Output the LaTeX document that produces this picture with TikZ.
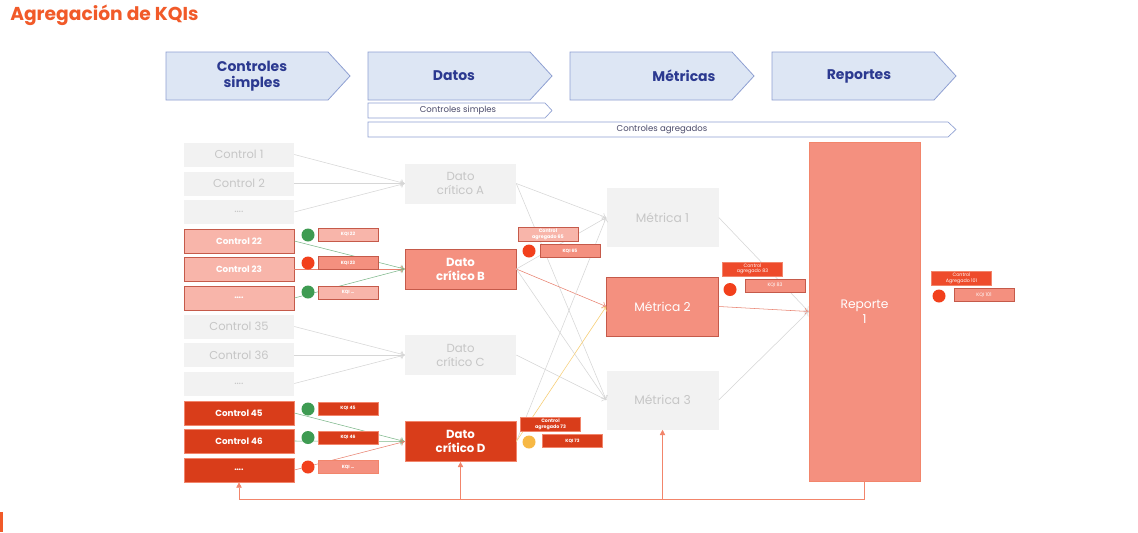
\documentclass[tikz,border=0pt]{standalone}
\usepackage{fontspec}
\setmainfont{Poppins}
\usetikzlibrary{arrows.meta}

\newdimen\pxu \pxu=0.75pt

\definecolor{ttlorange}{HTML}{F15A29}
\definecolor{hdrfill}{HTML}{DDE6F4}
\definecolor{hdrline}{HTML}{8FA0D2}
\definecolor{hdrtext}{HTML}{2B3990}
\definecolor{striptext}{HTML}{4A4A6A}
\definecolor{boxgrey}{HTML}{F2F2F2}
\definecolor{txtgrey}{HTML}{C6C6C6}
\definecolor{salmonpale}{HTML}{F8B5AA}
\definecolor{salmonmid}{HTML}{F4907F}
\definecolor{salmonline}{HTML}{C55A4A}
\definecolor{redorange}{HTML}{D93D1A}
\definecolor{redline}{HTML}{F2856B}
\definecolor{brightred}{HTML}{EE4B2B}
\definecolor{dotgreen}{HTML}{3E9B52}
\definecolor{dotred}{HTML}{F2401C}
\definecolor{dotyellow}{HTML}{F7B844}
\definecolor{lkgreyc}{HTML}{D6D6D6}
\definecolor{lkgreenc}{HTML}{7DB88A}
\definecolor{lkredc}{HTML}{E8806E}
\definecolor{lkyellowc}{HTML}{F7CC70}

\begin{document}
\begin{tikzpicture}[x=0.75pt,y=-0.75pt,
  hdr/.style={fill=hdrfill,draw=hdrline,line width=0.6pt},
  strip/.style={fill=white,draw=hdrline,line width=0.5pt},
  ctlgrey/.style={fill=boxgrey,draw=none,text=txtgrey,minimum width=110\pxu,minimum height=24\pxu,inner sep=0,font=\fontsize{8.6}{10}\selectfont},
  ctlpale/.style={fill=salmonpale,draw=salmonline,line width=0.5pt,text=white,minimum width=110\pxu,minimum height=24\pxu,inner sep=0,font=\bfseries\fontsize{6.6}{8}\selectfont},
  ctldark/.style={fill=redorange,draw=redline,line width=0.5pt,text=white,minimum width=110\pxu,minimum height=24\pxu,inner sep=0,font=\bfseries\fontsize{6.6}{8}\selectfont},
  datbox/.style={minimum width=111\pxu,minimum height=40\pxu,inner sep=0,align=center,font=\fontsize{8.8}{10.5}\selectfont},
  metbox/.style={minimum width=112\pxu,minimum height=59\pxu,inner sep=0,align=center,font=\fontsize{9.2}{11}\selectfont},
  kqi/.style={minimum width=60\pxu,minimum height=13\pxu,inner sep=0,line width=0.5pt,text=white,font=\bfseries\fontsize{3.4}{4}\selectfont},
  agg/.style={minimum width=60\pxu,minimum height=14\pxu,inner sep=0,line width=0.5pt,text=white,align=center,font=\fontsize{3.6}{4.2}\selectfont},
  dot/.style={circle,draw=none,minimum size=13\pxu,inner sep=0},
  lk/.style={line width=0.4pt,-{To[length=3pt,width=5pt]}},
  fb/.style={draw=redline,line width=0.5pt}]

\fill[white] (0,0) rectangle (1138,532);
\useasboundingbox (0,0) rectangle (1138,532);

% title
\node[anchor=west,text=ttlorange,font=\bfseries\fontsize{14}{16}\selectfont,inner sep=0] (ttl) at (10,15) {Agregación de KQIs};
\fill[ttlorange] (0,512) rectangle (3,532);

% header chevrons
\draw[hdr] (166,52) -- (328,52) -- (350,76) -- (328,100) -- (166,100) -- cycle;
\draw[hdr] (368,52) -- (530,52) -- (552,76) -- (530,100) -- (368,100) -- cycle;
\draw[hdr] (570,52) -- (732,52) -- (754,76) -- (732,100) -- (570,100) -- cycle;
\draw[hdr] (772,52) -- (934,52) -- (956,76) -- (934,100) -- (772,100) -- cycle;
\node[text=hdrtext,font=\bfseries\fontsize{10.5}{12}\selectfont,align=center] (hcs) at (252,76) {Controles\\simples};
\node[text=hdrtext,font=\bfseries\fontsize{10.5}{12}\selectfont] (hdat) at (454,76) {Datos};
\node[text=hdrtext,font=\bfseries\fontsize{10.5}{12}\selectfont] (hmet) at (684,76) {Métricas};
\node[text=hdrtext,font=\bfseries\fontsize{10.5}{12}\selectfont] (hrep) at (859,76) {Reportes};

\draw[strip] (368,103) -- (545,103) -- (552,110.5) -- (545,118) -- (368,118) -- cycle;
\draw[strip] (368,122) -- (948,122) -- (956,129.5) -- (948,137) -- (368,137) -- cycle;
\node[text=striptext,font=\fontsize{6.4}{7}\selectfont] (scs) at (458,110.5) {Controles simples};
\node[text=striptext,font=\fontsize{6.4}{7}\selectfont] (sca) at (662,129.5) {Controles agregados};

% controles
\node[ctlgrey] (c1) at (239,154.5) {Control 1};
\node[ctlgrey] (c2) at (239,183.5) {Control 2};
\node[ctlgrey] (c3) at (239,212) {\dots.};
\node[ctlpale] (c22) at (239,241) {Control 22};
\node[ctlpale] (c23) at (239,269) {Control 23};
\node[ctlpale] (c24) at (239,298) {\dots.};
\node[ctlgrey] (c35) at (239,326.5) {Control 35};
\node[ctlgrey] (c36) at (239,355) {Control 36};
\node[ctlgrey] (c37) at (239,383.5) {\dots.};
\node[ctldark] (c45) at (239,413) {Control 45};
\node[ctldark] (c46) at (239,441) {Control 46};
\node[ctldark] (c47) at (239,470) {\dots.};

% datos criticos
\node[datbox,fill=boxgrey,text=txtgrey] (datA) at (460.5,183.5) {Dato\\crítico A};
\node[datbox,fill=salmonmid,draw=salmonline,line width=0.5pt,text=white,font=\bfseries\fontsize{8.8}{10.5}\selectfont] (datB) at (460.5,269) {Dato\\crítico B};
\node[datbox,fill=boxgrey,text=txtgrey] (datC) at (460.5,355) {Dato\\crítico C};
\node[datbox,fill=redorange,draw=redline,line width=0.5pt,text=white,font=\bfseries\fontsize{8.8}{10.5}\selectfont] (datD) at (460.5,441.5) {Dato\\crítico D};

% metricas
\node[metbox,fill=boxgrey,text=txtgrey] (met1) at (662.5,217.5) {Métrica 1};
\node[metbox,fill=salmonmid,draw=salmonline,line width=0.5pt,text=white] (met2) at (662.5,306.5) {Métrica 2};
\node[metbox,fill=boxgrey,text=txtgrey] (met3) at (662.5,400) {Métrica 3};

% reporte
\node[fill=salmonmid,draw=redline,line width=0.6pt,text=white,minimum width=111\pxu,minimum height=339\pxu,inner sep=0,align=center,font=\fontsize{9.2}{11}\selectfont] (rep) at (864.5,311.5) {Reporte\\1};

% enlaces
\draw[lk,lkgreyc] (c1.east) -- (datA.west);
\draw[lk,lkgreyc] (c2.east) -- (datA.west);
\draw[lk,lkgreyc] (c3.east) -- (datA.west);
\draw[lk,lkgreenc] (c22.east) -- (datB.west);
\draw[lk,lkredc] (c23.east) -- (datB.west);
\draw[lk,lkgreenc] (c24.east) -- (datB.west);
\draw[lk,lkgreyc] (c35.east) -- (datC.west);
\draw[lk,lkgreyc] (c36.east) -- (datC.west);
\draw[lk,lkgreyc] (c37.east) -- (datC.west);
\draw[lk,lkgreenc] (c45.east) -- (datD.west);
\draw[lk,lkgreenc] (c46.east) -- (datD.west);
\draw[lk,lkredc] (c47.east) -- (datD.west);

\draw[lk,lkgreyc] (datA.east) -- (met1.west);
\draw[lk,lkgreyc] (datA.east) -- (met3.west);
\draw[lk,lkgreyc] (datB.east) -- (met1.west);
\draw[lk,lkredc] (datB.east) -- (met2.west);
\draw[lk,lkgreyc] (datB.east) -- (met3.west);
\draw[lk,lkgreyc] (datC.east) -- (met3.west);
\draw[lk,lkgreyc] (datD.east) -- (met1.west);
\draw[lk,lkyellowc] (datD.east) -- (met2.west);

\draw[lk,lkgreyc] (met1.east) -- (rep.west);
\draw[lk,lkredc] (met2.east) -- (rep.west);
\draw[lk,lkgreyc] (met3.east) -- (rep.west);

% retorno
\coordinate (fbL) at (239,499);
\draw[fb,-{Triangle[length=4pt,width=4pt]}] (rep.south) |- (fbL) -- (c47.south);
\draw[fb,-{Triangle[length=4pt,width=4pt]}] (datD.south |- fbL) -- (datD.south);
\draw[fb,-{Triangle[length=4pt,width=4pt]}] (met3.south |- fbL) -- (met3.south);

% KQIs de controles
\node[dot,fill=dotgreen] (d22) at (308,235) {};
\node[dot,fill=dotred] (d23) at (308,263) {};
\node[dot,fill=dotgreen] (d24) at (308,292) {};
\node[kqi,fill=salmonpale,draw=salmonline] (k22) at (348,234.5) {KQI 22};
\node[kqi,fill=salmonmid,draw=salmonline] (k23) at (348,263) {KQI 23};
\node[kqi,fill=salmonpale,draw=salmonline] (k24) at (348,292.5) {KQI \dots};
\node[dot,fill=dotgreen] (d45) at (308,409) {};
\node[dot,fill=dotgreen] (d46) at (308,437.5) {};
\node[dot,fill=dotred] (d47) at (308,467) {};
\node[kqi,fill=redorange,draw=redline] (k45) at (348,408.5) {KQI 45};
\node[kqi,fill=redorange,draw=redline] (k46) at (348,437.5) {KQI 46};
\node[kqi,fill=salmonmid,draw=redline] (k47) at (348,467) {KQI \dots};

% controles agregados
\node[agg,fill=salmonpale,draw=salmonline,font=\bfseries\fontsize{3.6}{4.2}\selectfont] (a65) at (548,234.5) {Control\\agregado 65};
\node[dot,fill=dotred] (d65) at (529,251) {};
\node[kqi,fill=salmonmid,draw=salmonline] (k65) at (570,251) {KQI 65};

\node[agg,fill=redorange,draw=redline,font=\bfseries\fontsize{3.6}{4.2}\selectfont] (a73) at (550.5,424.5) {Control\\agregado 73};
\node[dot,fill=dotyellow] (d73) at (529,442) {};
\node[kqi,fill=redorange,draw=redline] (k73) at (572.5,441) {KQI 73};

\node[agg,fill=brightred,draw=redline] (a83) at (752.5,269) {Control\\agregado 83};
\node[dot,fill=dotred] (d83) at (730,289.5) {};
\node[kqi,fill=salmonmid,draw=salmonline,font=\fontsize{3.6}{4}\selectfont] (k83) at (775,285.5) {KQI 83};

\node[agg,fill=brightred,draw=redline] (a101) at (961.5,278.5) {Control\\Agregado 101};
\node[dot,fill=dotred] (d101) at (939,296) {};
\node[kqi,fill=salmonmid,draw=salmonline,font=\fontsize{3.6}{4}\selectfont] (k101) at (984,295) {KQI 101};

\end{tikzpicture}
\end{document}
